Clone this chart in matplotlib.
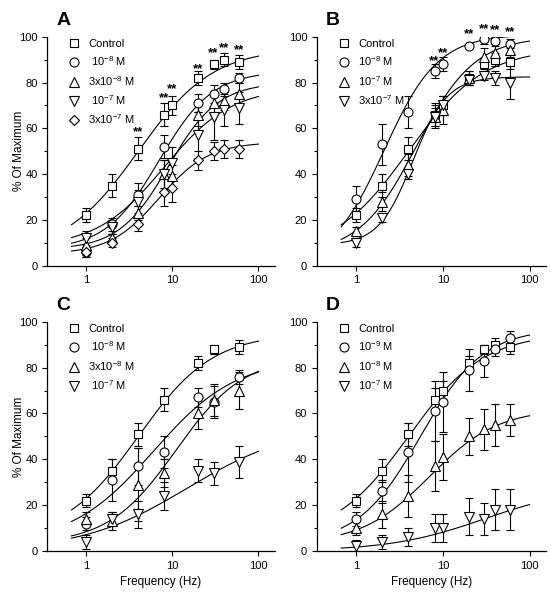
import numpy as np
import matplotlib
matplotlib.use("Agg")
import matplotlib.pyplot as plt
from matplotlib.lines import Line2D
from matplotlib.ticker import FixedLocator, FixedFormatter, MultipleLocator

plt.rcParams['font.family'] = ['Liberation Sans', 'DejaVu Sans']
plt.rcParams['mathtext.fontset'] = 'custom'
plt.rcParams['mathtext.rm'] = 'Liberation Sans'
plt.rcParams['mathtext.default'] = 'regular'

# stimulation frequencies (Hz)
freq = [1, 2, 4, 8, 10, 20, 30, 40, 60]
freq_no10 = [1, 2, 4, 8, 20, 30, 40, 60]
freq_c = [1, 2, 4, 8, 20, 30, 60]

# control response, same in every panel
ctrl_y = [22, 35, 51, 66, 70, 82, 88, 90, 89]
ctrl_err = [3, 5, 5, 5, 4, 3, 2, 3, 3]
ctrl_y_c = [22, 35, 51, 66, 82, 88, 89]
ctrl_err_c = [3, 5, 5, 5, 3, 2, 3]
ctrl_fit = (5, 95, 4.0, 1.0)   # bottom, top, EC50, Hill slope

# panel A
a1_y = [6, 18, 31, 52, 71, 75, 77, 82]
a1_err = [2, 3, 5, 5, 4, 4, 3, 2]
a2_y = [9, 12, 23, 40, 39, 66, 71, 72, 75]
a2_err = [3, 2, 3, 6, 5, 5, 5, 4, 5]
a3_y = [12, 17, 28, 40, 45, 57, 65, 68, 69]
a3_err = [3, 3, 5, 6, 7, 10, 10, 7, 7]
a4_y = [6, 10, 18, 32, 34, 46, 50, 51, 51]
a4_err = [2, 2, 3, 6, 6, 4, 4, 4, 4]
a_fits = [(7, 85, 7.0, 1.4), (7, 80, 9.0, 1.5), (8, 78, 8.0, 1.1), (5, 54, 7.0, 1.5)]
a_star_x = [4, 8, 10, 20, 30, 40, 60]
a_star_y = [58.5, 73, 77, 86, 93, 95, 94]

# panel B
b1_y = [29, 53, 67, 85, 88, 96, 99, 98, 97]
b1_err = [6, 9, 7, 3, 3, 1, 2, 2, 2]
b2_y = [15, 28, 44, 65, 68, 82, 91, 93, 94]
b2_err = [2, 4, 5, 5, 6, 3, 4, 4, 3]
b3_y = [10, 21, 40, 65, 70, 81, 83, 82, 80]
b3_err = [2, 2, 2, 4, 4, 2, 2, 3, 7]
b_fits = [(0, 101, 2.1, 1.4), (5, 100, 5.0, 1.3), (9, 82.5, 4.5, 2.2)]
b_star_x = [8, 10, 20, 30, 40, 60]
b_star_y = [89.5, 93, 101, 103.5, 103, 102]

# panel C
c1_y = [12, 31, 37, 43, 67, 65, 76]
c1_err = [3, 9, 8, 7, 4, 7, 3]
c2_y = [14, 13, 29, 34, 60, 66, 70]
c2_err = [3, 4, 16, 6, 7, 7, 8]
c3_y = [4, 14, 16, 24, 35, 34, 39]
c3_err = [3, 3, 6, 6, 5, 5, 7]
c_fits = [(3, 84, 6.0, 0.9), (3, 85, 11.0, 1.1), (0, 55, 15.0, 0.7)]

# panel D
d1_y = [14, 26, 43, 61, 65, 79, 83, 88, 93]
d1_err = [3, 5, 13, 13, 13, 9, 7, 3, 3]
d2_y = [10, 16, 24, 37, 41, 50, 53, 55, 57]
d2_err = [3, 6, 9, 11, 10, 8, 9, 9, 7]
d3_y = [2, 4, 6, 10, 10, 15, 14, 18, 18]
d3_err = [3, 3, 4, 6, 6, 8, 7, 9, 9]
d_fits = [(3, 97, 5.5, 1.2), (3, 62, 7.0, 1.1), (0, 28, 30.0, 0.8)]

labels_a = ["Control", " 10$^{-8}$ M", "3x10$^{-8}$ M", " 10$^{-7}$ M", "3x10$^{-7}$ M"]
labels_b = ["Control", "10$^{-8}$ M", "10$^{-7}$ M", "3x10$^{-7}$ M"]
labels_c = ["Control", " 10$^{-8}$ M", "3x10$^{-8}$ M", " 10$^{-7}$ M"]
labels_d = ["Control", "10$^{-9}$ M", "10$^{-8}$ M", "10$^{-7}$ M"]

markers = ['s', 'o', '^', 'v', 'D']
msizes = [6, 6.5, 6.5, 6.5, 5.5]


def hill(x, bottom, top, ec50, slope):
    return bottom + (top - bottom) / (1 + (ec50 / x) ** slope)


def draw_panel(ax, letter, series, fits, labels, stars=None, ylab=True, xlab=True):
    xs = np.logspace(np.log10(0.67), np.log10(100), 200)
    for (bottom, top, ec50, slope) in fits:
        ax.plot(xs, hill(xs, bottom, top, ec50, slope), color='black', lw=0.8, zorder=1)
    for i, (x, y, e) in enumerate(series):
        ax.errorbar(x, y, yerr=e, fmt=markers[i], ms=msizes[i], mfc='white', mec='black',
                    mew=0.8, ecolor='black', elinewidth=0.8, capsize=3, capthick=0.8, zorder=3)
    if stars is not None:
        for sx, sy in zip(*stars):
            ax.text(sx, sy, "**", ha='center', va='center', fontsize=9.5, fontweight='bold',
                    clip_on=False)
    handles = [Line2D([], [], ls='none', marker=markers[i], ms=msizes[i], mfc='white',
                      mec='black', mew=0.8) for i in range(len(labels))]
    ax.legend(handles, labels, loc='upper left', bbox_to_anchor=(0.075, 1.01), frameon=False,
              fontsize=8, handlelength=1.0, handletextpad=0.75, labelspacing=0.5, borderaxespad=0)
    ax.set_xscale('log')
    ax.set_xlim(0.35, 155)
    ax.set_ylim(0, 100)
    ax.xaxis.set_major_locator(FixedLocator([1, 10, 100]))
    ax.xaxis.set_major_formatter(FixedFormatter(['1', '10', '100']))
    ax.xaxis.set_minor_locator(FixedLocator([]))
    ax.yaxis.set_major_locator(MultipleLocator(20))
    ax.yaxis.set_minor_locator(MultipleLocator(10))
    ax.tick_params(which='major', direction='out', length=3.5, width=0.8, labelsize=8)
    ax.tick_params(which='minor', direction='out', length=2, width=0.8)
    for s in ['top', 'right']:
        ax.spines[s].set_visible(False)
    for s in ['left', 'bottom']:
        ax.spines[s].set_linewidth(0.9)
    if ylab:
        ax.set_ylabel("% Of Maximum", fontsize=8.5)
        ax.yaxis.set_label_coords(-0.1, 0.5)
    if xlab:
        ax.set_xlabel("Frequency (Hz)", fontsize=8.5, labelpad=4)
    ax.text(0.07, 1.05, letter, transform=ax.transAxes, fontsize=14, fontweight='bold',
            ha='center', va='baseline')


fig = plt.figure(figsize=(5.51, 5.99), dpi=100)
axA = fig.add_axes([0.0858, 0.5564, 0.413, 0.3823])
axB = fig.add_axes([0.575, 0.5564, 0.416, 0.3823])
axC = fig.add_axes([0.0858, 0.0801, 0.413, 0.3828])
axD = fig.add_axes([0.575, 0.0801, 0.416, 0.3828])

draw_panel(axA, 'A',
           [(freq, ctrl_y, ctrl_err), (freq_no10, a1_y, a1_err), (freq, a2_y, a2_err),
            (freq, a3_y, a3_err), (freq, a4_y, a4_err)],
           [ctrl_fit] + a_fits, labels_a, stars=(a_star_x, a_star_y), ylab=True, xlab=False)
draw_panel(axB, 'B',
           [(freq, ctrl_y, ctrl_err), (freq, b1_y, b1_err), (freq, b2_y, b2_err),
            (freq, b3_y, b3_err)],
           [ctrl_fit] + b_fits, labels_b, stars=(b_star_x, b_star_y), ylab=False, xlab=False)
draw_panel(axC, 'C',
           [(freq_c, ctrl_y_c, ctrl_err_c), (freq_c, c1_y, c1_err), (freq_c, c2_y, c2_err),
            (freq_c, c3_y, c3_err)],
           [ctrl_fit] + c_fits, labels_c, ylab=True, xlab=True)
draw_panel(axD, 'D',
           [(freq, ctrl_y, ctrl_err), (freq, d1_y, d1_err), (freq, d2_y, d2_err),
            (freq, d3_y, d3_err)],
           [ctrl_fit] + d_fits, labels_d, ylab=False, xlab=True)

fig.savefig("out.png", dpi=100)
